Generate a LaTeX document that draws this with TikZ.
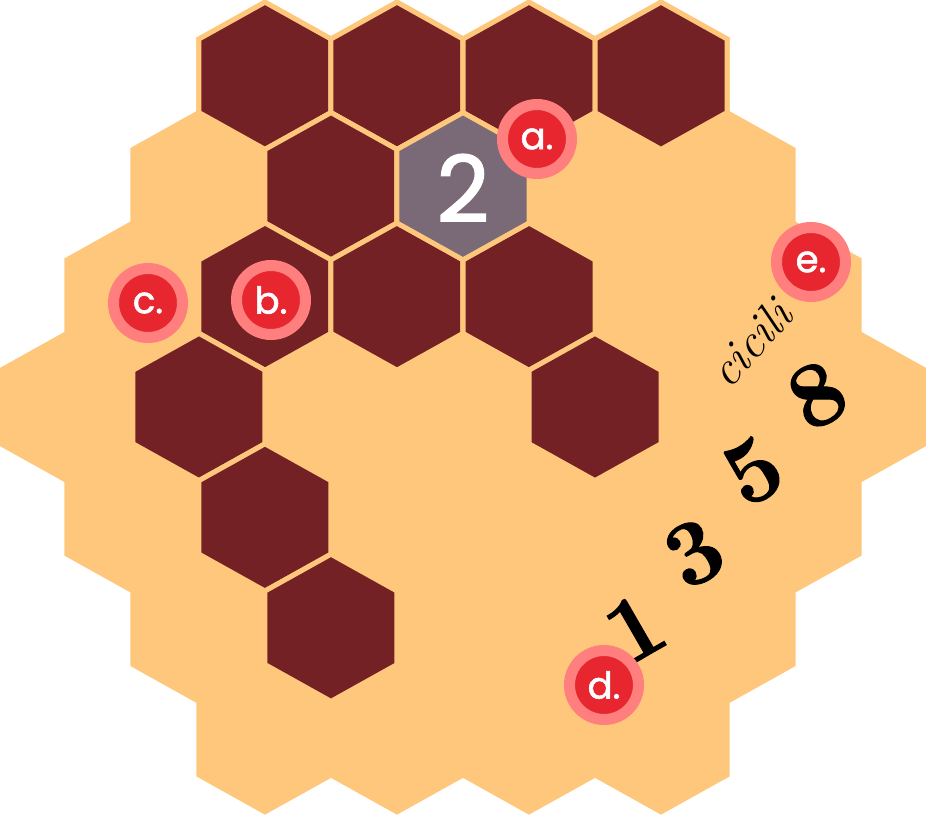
\documentclass[tikz,border=0pt]{standalone}
\usepackage{fontspec}
\newfontfamily\popfont[FakeBold=1.6]{Poppins}
\newfontfamily\digitfont[FakeBold=1.2]{Latin Modern Roman}
\definecolor{board}{HTML}{FEC77C}
\definecolor{wall}{HTML}{732125}
\definecolor{start}{HTML}{7A6977}
\definecolor{ring}{HTML}{FF7E7E}
\definecolor{badge}{HTML}{E8262F}
\newcommand{\hexcell}[2]{\filldraw[#1] (#2) ++(0,73.6) -- ++(66,-36.8) -- ++(0,-73.6) -- ++(-66,-36.8) -- ++(-66,36.8) -- ++(0,73.6) -- cycle;}

\begin{document}
\begin{tikzpicture}[x=1pt,y=1pt]
\tikzstyle{cell}=[fill=board,draw=board,line width=5pt,line join=miter]
\tikzstyle{wallcell}=[cell,fill=wall]
\tikzstyle{startcell}=[cell,fill=start]
\tikzstyle{marker}=[circle,fill=badge,draw=ring,line width=11pt,minimum size=69pt,inner sep=0pt,text=white,font=\popfont\fontsize{37}{37}\selectfont]
\tikzstyle{numeral}=[font=\digitfont\fontsize{92}{92}\selectfont\bfseries,rotate=30,inner sep=0pt]
\useasboundingbox (-463,-407) rectangle (463,407);

% board, 4-5-6-7-6-5-4 cells
\foreach \r in {0,...,6}{
  \pgfmathtruncatemacro{\n}{7-abs(\r-3)}
  \foreach \k in {1,...,\n}{
    \pgfmathsetmacro{\cx}{-(\n+1)*66+132*\k}
    \pgfmathsetmacro{\cy}{(3-\r)*110.4}
    \hexcell{cell}{\cx,\cy}
  }
}

% blocked cells
\foreach \cx/\cy in {-198/331.2,-66/331.2,66/331.2,198/331.2,-132/220.8,-198/110.4,-66/110.4,66/110.4,-264/0,132/0,-198/-110.4,-132/-220.8}{
  \hexcell{wallcell}{\cx,\cy}
}
\hexcell{startcell}{0,220.8}
\node[font=\popfont\fontsize{92}{92}\selectfont,text=white,inner sep=0pt] (two) at (0,219) {2};

% sequence
\node[font=\fontsize{48}{48}\selectfont\itshape,rotate=48,inner sep=0pt] (word) at (287,64) {cicili};
\node[numeral] (n1) at (172,-221) {1};
\node[numeral] (n3) at (231,-146) {3};
\node[numeral] (n5) at (290,-64) {5};
\node[numeral] (n8) at (354,12) {8};

% markers
\node[marker] (ma) at (74,268) {a.};
\node[marker] (mb) at (-192,107) {b.};
\node[marker] (mc) at (-315,104) {c.};
\node[marker] (md) at (141,-278) {d.};
\node[marker] (me) at (348,145) {e.};
\end{tikzpicture}
\end{document}
